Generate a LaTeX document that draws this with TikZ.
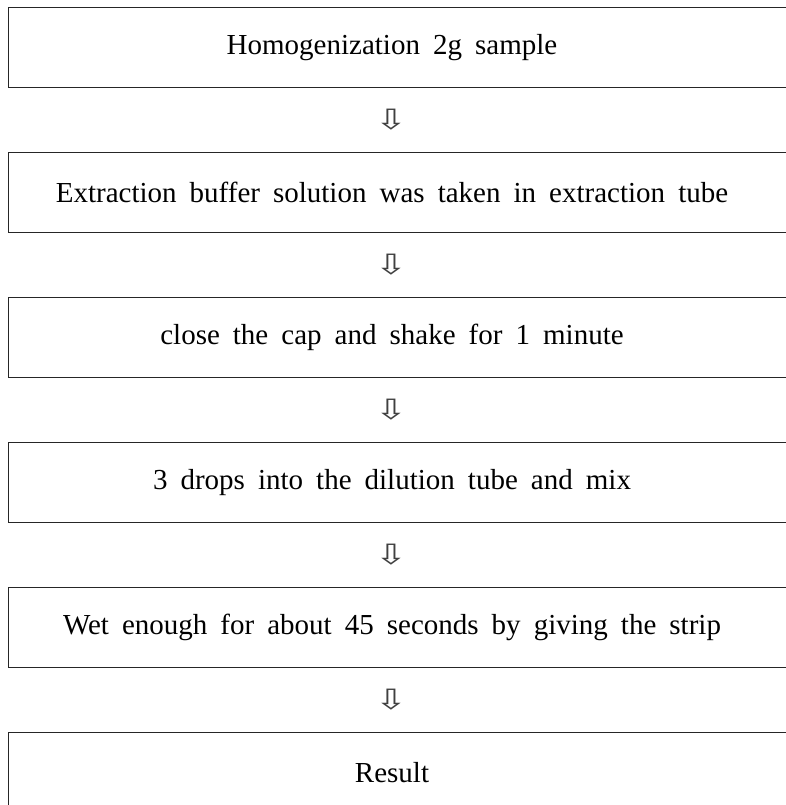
\documentclass[tikz,border=0pt]{standalone}
\usepackage{fontspec}
\setmainfont{Liberation Serif}
\newfontfamily\arrowfont{DejaVu Sans}
\usetikzlibrary{positioning,calc}

\tikzset{
    stepbox/.style={draw=black!85, line width=1pt, minimum width=792pt, minimum height=80pt, inner sep=0pt,
        font={\fontsize{29}{34}\selectfont\spaceskip=0.45em plus 0.1em},
        execute at begin node={\hspace*{-24pt}}},
    downarr/.style={font=\arrowfont\fontsize{28}{28}\selectfont, text=black!75, inner sep=0pt, xshift=-13pt}
}
\newcommand{\hollowdown}{\scalebox{1.4}[1]{⇩}}

\begin{document}
\begin{tikzpicture}[x=1pt, y=-1pt, node distance=64pt]
    \useasboundingbox (0,0) rectangle (785,805);

    % Steps
    \node[stepbox] (hom) at (404,47.5) {Homogenization 2g sample};
    \node[stepbox, below=of hom] (ext) {Extraction buffer solution was taken in extraction tube};
    \node[stepbox, below=of ext] (cap) {close the cap and shake for 1 minute};
    \node[stepbox, below=of cap] (dil) {3 drops into the dilution tube and mix};
    \node[stepbox, below=of dil] (wet) {Wet enough for about 45 seconds by giving the strip};
    \node[stepbox, below=of wet] (res) {Result};

    % Arrows between steps
    \node[downarr] (a1) at ($(hom.south)!0.5!(ext.north)$) {\hollowdown};
    \node[downarr] (a2) at ($(ext.south)!0.5!(cap.north)$) {\hollowdown};
    \node[downarr] (a3) at ($(cap.south)!0.5!(dil.north)$) {\hollowdown};
    \node[downarr] (a4) at ($(dil.south)!0.5!(wet.north)$) {\hollowdown};
    \node[downarr] (a5) at ($(wet.south)!0.5!(res.north)$) {\hollowdown};

\end{tikzpicture}
\end{document}
